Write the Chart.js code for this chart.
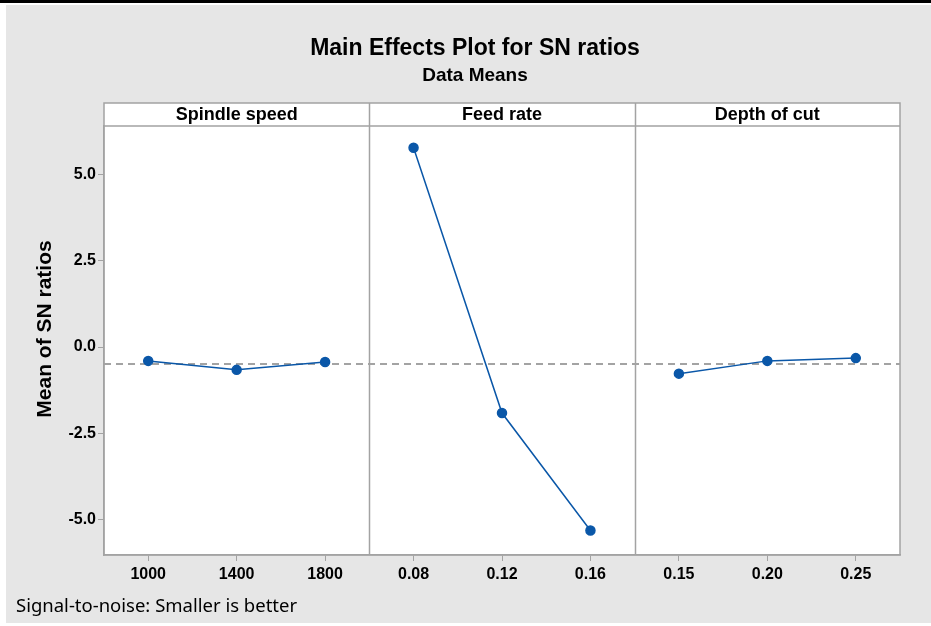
<html>
<head>
    <script src="https://cdn.jsdelivr.net/npm/chart.js"></script>
    <title>Main Effects Plot for SN ratios</title>
    <style>
        body { margin: 0; background: #ffffff; }
        #wrap { position: relative; width: 931px; height: 626px; }
    </style>
</head>
<body>
    <div id="wrap">
        <canvas id="c1"></canvas>
    </div>
    <script>
        "use strict";

        // factor names (panel headers)
        let factors = ["Spindle speed", "Feed rate", "Depth of cut"];

        // levels of each factor (x tick labels)
        let speedLevels = ["1000", "1400", "1800"];
        let feedLevels = ["0.08", "0.12", "0.16"];
        let depthLevels = ["0.15", "0.20", "0.25"];

        // mean of SN ratios at each level
        let speedMeans = [-0.40, -0.66, -0.43];
        let feedMeans = [5.77, -1.91, -5.31];
        let depthMeans = [-0.77, -0.40, -0.32];

        // overall mean (dashed line) and y ticks
        let grandMean = -0.49;
        let yTicks = [5.0, 2.5, 0.0, -2.5, -5.0];

        let xLabels = speedLevels.concat(feedLevels, depthLevels);
        let blue = "#0a57a8";
        let frame = "#a3a3a3";
        let arial = "'Liberation Sans', Arial, sans-serif";

        function toPoints(means, panel)
        {
            return means.map((v, i) => ({ x: panel * 3 + i, y: v }));
        }

        let decor = {
            id: "decor",
            beforeDraw(chart)
            {
                let ctx = chart.ctx;
                ctx.save();
                ctx.fillStyle = "#ffffff";
                ctx.fillRect(0, 0, chart.width, chart.height);
                ctx.fillStyle = "#e6e6e6";
                ctx.fillRect(6, 5, chart.width - 6, chart.height - 8);
                ctx.fillStyle = "#000000";
                ctx.fillRect(0, 0, chart.width, 3);
                let a = chart.chartArea;
                ctx.fillStyle = "#ffffff";
                ctx.fillRect(a.left, a.top - 23, a.right - a.left, a.bottom - a.top + 23);
                ctx.restore();
            },
            afterDatasetsDraw(chart)
            {
                let ctx = chart.ctx;
                let a = chart.chartArea;
                let xs = chart.scales.x;
                ctx.save();
                ctx.strokeStyle = frame;
                ctx.lineWidth = 1.5;
                ctx.strokeRect(a.left, a.top - 23, a.right - a.left, a.bottom - a.top + 23);
                ctx.beginPath();
                ctx.moveTo(a.left, a.top);
                ctx.lineTo(a.right, a.top);
                for (let p = 1; p < factors.length; p++)
                {
                    let x = Math.round(xs.getPixelForValue(p * 3 - 0.5)) + 0.5;
                    ctx.moveTo(x, a.top - 23);
                    ctx.lineTo(x, a.bottom);
                }
                ctx.stroke();

                ctx.fillStyle = "#000000";
                ctx.textAlign = "center";
                ctx.textBaseline = "middle";
                ctx.font = "bold 18px " + arial;
                for (let p = 0; p < factors.length; p++)
                {
                    let cx = xs.getPixelForValue(p * 3 + 1);
                    ctx.fillText(factors[p], cx, a.top - 11);
                }

                ctx.save();
                ctx.translate(45, (a.top - 23 + a.bottom) / 2);
                ctx.rotate(-Math.PI / 2);
                ctx.font = "bold 21px " + arial;
                ctx.fillText("Mean of SN ratios", 0, 0);
                ctx.restore();

                ctx.textAlign = "left";
                ctx.font = "18.5px 'Noto Sans', 'Open Sans', sans-serif";
                ctx.fillText("Signal-to-noise: Smaller is better", 16, 607);
                ctx.restore();
            }
        };

        let params =
        {
            type: "line",
            data: {
                datasets: [
                    {
                        label: "mean",
                        data: [{ x: -0.5, y: grandMean }, { x: 8.5, y: grandMean }],
                        borderColor: frame,
                        borderWidth: 2,
                        borderDash: [7, 5],
                        pointRadius: 0,
                        order: 2
                    },
                    {
                        label: factors[0],
                        data: toPoints(speedMeans, 0),
                        borderColor: blue, backgroundColor: blue,
                        borderWidth: 1.5, pointRadius: 4.5, pointHoverRadius: 4.5, order: 1
                    },
                    {
                        label: factors[1],
                        data: toPoints(feedMeans, 1),
                        borderColor: blue, backgroundColor: blue,
                        borderWidth: 1.5, pointRadius: 4.5, pointHoverRadius: 4.5, order: 1
                    },
                    {
                        label: factors[2],
                        data: toPoints(depthMeans, 2),
                        borderColor: blue, backgroundColor: blue,
                        borderWidth: 1.5, pointRadius: 4.5, pointHoverRadius: 4.5, order: 1
                    }
                ]
            },
            options: {
                responsive: false,
                animation: false,
                events: [],
                layout: { padding: { left: 50, right: 31, top: 0, bottom: 0 } },
                plugins: {
                    legend: { display: false },
                    tooltip: { enabled: false },
                    title: {
                        display: true,
                        text: "Main Effects Plot for SN ratios",
                        color: "#000000",
                        font: { family: arial, size: 23, weight: "bold" },
                        padding: { top: 35, bottom: 0 }
                    },
                    subtitle: {
                        display: true,
                        text: "Data Means",
                        color: "#000000",
                        font: { family: arial, size: 19, weight: "bold" },
                        padding: { top: 2, bottom: 38.6 }
                    }
                },
                scales: {
                    x: {
                        type: "linear",
                        min: -0.5,
                        max: 8.5,
                        afterBuildTicks: s => { s.ticks = xLabels.map((t, i) => ({ value: i })); },
                        afterFit: s => { s.height = 71; },
                        ticks: {
                            callback: v => xLabels[v],
                            color: "#000000",
                            padding: 4,
                            maxRotation: 0,
                            autoSkip: false,
                            font: { family: arial, size: 16, weight: "bold" }
                        },
                        grid: { drawOnChartArea: false, tickLength: 6, color: frame },
                        border: { color: frame, width: 1.5 }
                    },
                    y: {
                        min: -6.02,
                        max: 6.4,
                        afterBuildTicks: s => { s.ticks = yTicks.map(v => ({ value: v })); },
                        afterFit: s => { s.width = 54; },
                        ticks: {
                            callback: v => v.toFixed(1),
                            color: "#000000",
                            padding: 2,
                            font: { family: arial, size: 16, weight: "bold" }
                        },
                        grid: { drawOnChartArea: false, tickLength: 6, color: frame },
                        border: { color: frame, width: 1.5 }
                    }
                }
            },
            plugins: [decor]
        };

        let c1 = document.querySelector("#c1");
        c1.width = 931;
        c1.height = 626;
        let chart1 = new Chart(c1, params);
    </script>
</body>
</html>
